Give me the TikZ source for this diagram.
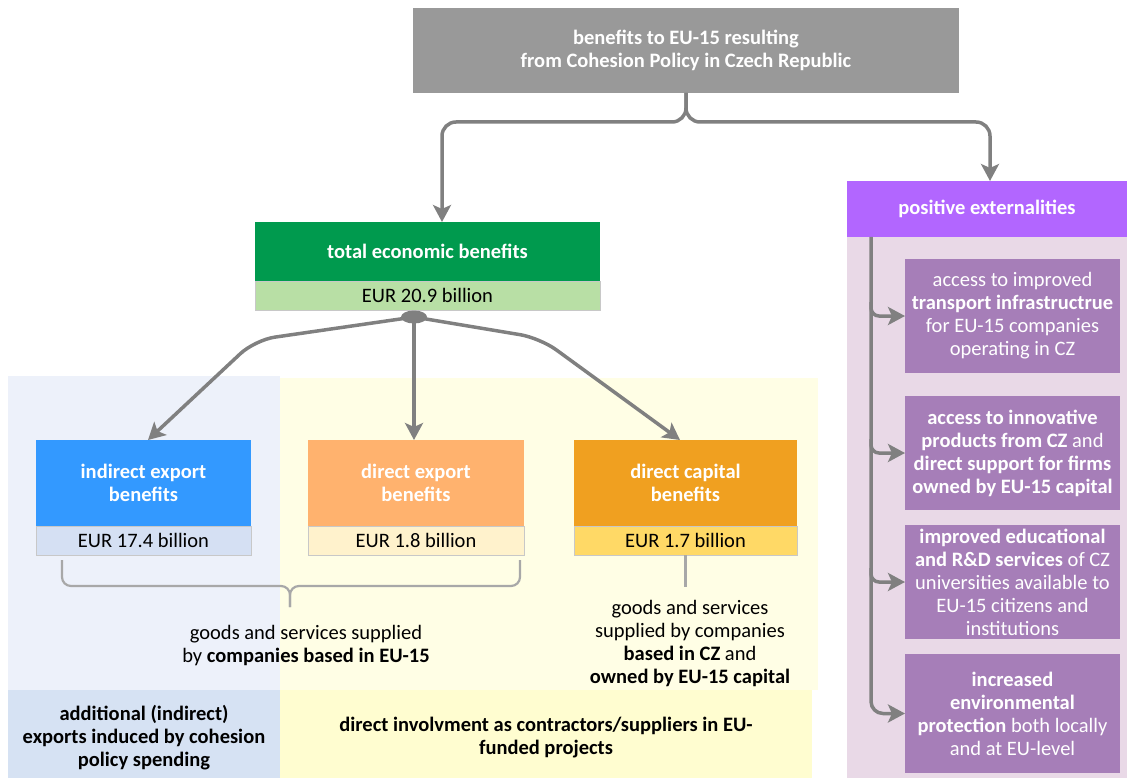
\documentclass[tikz,border=0pt]{standalone}
\usepackage{fontspec}
\setmainfont{Carlito}
\usetikzlibrary{arrows.meta,calc,shapes.geometric}
\definecolor{topgray}{HTML}{999999}
\definecolor{green1}{HTML}{009A4E}
\definecolor{green2}{HTML}{B8DFA5}
\definecolor{blue1}{HTML}{3399FF}
\definecolor{blue2}{HTML}{D5E0F3}
\definecolor{lor1}{HTML}{FFB26E}
\definecolor{lor2}{HTML}{FFF2CC}
\definecolor{or1}{HTML}{F0A020}
\definecolor{or2}{HTML}{FFD966}
\definecolor{purp1}{HTML}{B266FF}
\definecolor{purp2}{HTML}{A67EB8}
\definecolor{pinkbg}{HTML}{E9D9E7}
\definecolor{bgblue}{HTML}{EDF1FA}
\definecolor{bgyel}{HTML}{FFFEE5}
\definecolor{bandblue}{HTML}{D6E2F3}
\definecolor{bandyel}{HTML}{FFFDD0}
\definecolor{conngray}{HTML}{808080}
\definecolor{bracegray}{HTML}{A8A8A8}
\definecolor{subline}{HTML}{C8C8C8}
\begin{document}
\begin{tikzpicture}[x=1pt,y=-1pt,
  rect/.style={anchor=north west, inner sep=0pt, outer sep=0pt, align=center},
  hdr/.style={rect, text=white, font=\fontsize{20.5}{22.5}\selectfont\bfseries},
  subbox/.style={rect, draw=subline, line width=1pt, font=\fontsize{20.5}{23}\selectfont},
  pbox/.style={rect, fill=purp2, text=white, minimum width=215pt, font=\fontsize{20.5}{23}\selectfont},
  band/.style={align=center, inner sep=0pt, font=\fontsize{20.5}{23}\selectfont\bfseries},
  txt/.style={align=center, inner sep=0pt, font=\fontsize{20.5}{23}\selectfont},
  conn/.style={draw=conngray, line width=3.5pt, -{Stealth[length=17pt,width=18pt,inset=4pt]}},
  bracel/.style={draw=bracegray, line width=2.2pt}
]
\useasboundingbox (0,0) rectangle (1127,778);

% backgrounds
\fill[bgblue] (8,376) rectangle (280,690);
\fill[bgyel] (280,378) rectangle (818,690);
\fill[bandblue] (8,690) rectangle (280,778);
\fill[bandyel] (280,690) rectangle (812,778);
\node[band] (bandL) at (144,738) {additional (indirect)\\exports induced by cohesion\\policy spending};
\node[band] (bandR) at (546,738) {direct involvment as contractors/suppliers in EU-\\funded projects};

% top
\node[hdr, fill=topgray, minimum width=546pt, minimum height=85pt] (top) at (413,8) {benefits to EU-15 resulting\\from Cohesion Policy in Czech Republic};

% total
\node[hdr, fill=green1, minimum width=345pt, minimum height=59pt] (tot) at (255,222) {total economic benefits};
\node[subbox, fill=green2, minimum width=345pt, minimum height=29pt] (totv) at (255,281) {EUR 20.9 billion};

% three boxes
\node[hdr, fill=blue1, minimum width=215pt, minimum height=86pt] (ind) at (36,440) {indirect export\\benefits};
\node[subbox, fill=blue2, minimum width=215pt, minimum height=29pt] (indv) at (36,526) {EUR 17.4 billion};
\node[hdr, fill=lor1, minimum width=216pt, minimum height=86pt] (dexp) at (308,440) {direct export\\benefits};
\node[subbox, fill=lor2, minimum width=216pt, minimum height=29pt] (dexpv) at (308,526) {EUR 1.8 billion};
\node[hdr, fill=or1, minimum width=223pt, minimum height=86pt] (dcap) at (574,440) {direct capital\\benefits};
\node[subbox, fill=or2, minimum width=223pt, minimum height=29pt] (dcapv) at (574,526) {EUR 1.7 billion};

% explanations
\node[txt] (gs1) at (306,646) {goods and services supplied\\by \textbf{companies based in EU-15}};
\node[txt] (gs2) at (690,643) {goods and services\\supplied by companies\\\textbf{based in CZ} and\\\textbf{owned by EU-15 capital}};

% brace
\coordinate (bl) at (62,560);
\coordinate (br) at (520,560);
\coordinate (bm) at (290,607);
\draw[bracel, rounded corners=9pt] (bl) -- (62,586) -- (290,586) -- (bm);
\draw[bracel, rounded corners=9pt] (br) -- (520,586) -- (290,586) -- (bm);
\draw[bracel] (dcapv.south) -- ++(0,32);

% right column
\node[hdr, fill=purp1, minimum width=280pt, minimum height=56pt] (pe) at (847,181) {positive externalities};
\fill[pinkbg] (847,237) rectangle (1127,778);
\node[pbox, minimum height=114pt] (p1) at (905,259) {access to improved\\\textbf{transport infrastructrue}\\for EU-15 companies\\operating in CZ};
\node[pbox, minimum height=114pt] (p2) at (905,396) {\textbf{access to innovative}\\\textbf{products from CZ} and\\\textbf{direct support for firms}\\\textbf{owned by EU-15 capital}};
\node[pbox, minimum height=114pt] (p3) at (905,525) {\textbf{improved educational}\\\textbf{and R\&D services} of CZ\\universities available to\\EU-15 citizens and\\institutions};
\node[pbox, minimum height=119pt] (p4) at (905,654) {\textbf{increased}\\\textbf{environmental}\\\textbf{protection} both locally\\and at EU-level};

\coordinate (vl) at (871,237);
\draw[conn, rounded corners=12pt] (vl) |- (p4.west);
\foreach \b in {p1,p2,p3}{
  \draw[conn, rounded corners=8pt] ($(vl |- \b.west)+(0,-14)$) |- (\b.west);
}

% top connectors
\coordinate (j) at (686,122);
\draw[conn, rounded corners=14pt] (top.south) -- (j) -- (442,122) -- (442,0 |- tot.north);
\draw[conn, rounded corners=14pt] (top.south) -- (j) -- (990,122) -- (990,0 |- pe.north);

% lower connectors
\node[ellipse, fill=conngray, minimum width=26pt, minimum height=13pt, inner sep=0pt] (dot) at (414,317) {};
\draw[conn, rounded corners=20pt] (dot.center) -- (255,340) -- (148,0 |- ind.north);
\draw[conn] (dot.center) -- (dot.center |- dexp.north);
\draw[conn, rounded corners=20pt] (dot.center) -- (540,338) -- (680,0 |- dcap.north);
\end{tikzpicture}
\end{document}
